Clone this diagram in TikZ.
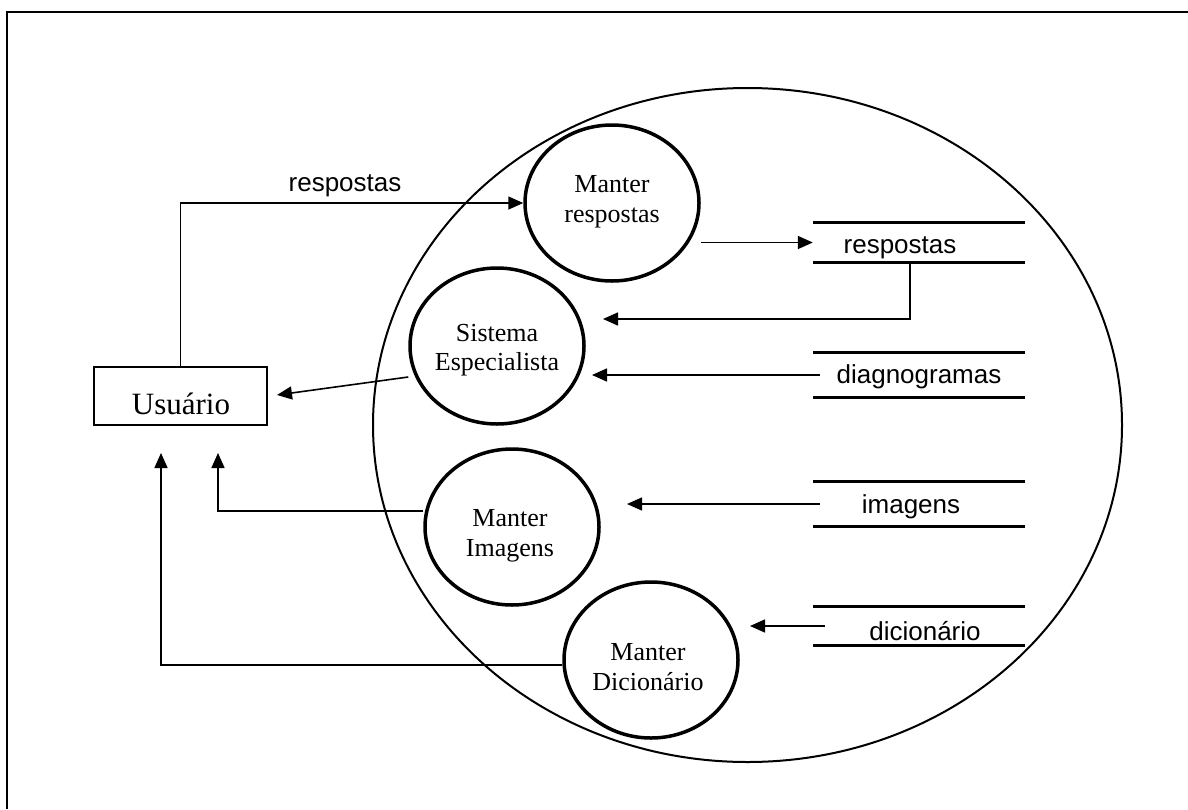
\documentclass[tikz,border=0pt]{standalone}
\usepackage{fontspec}
\setmainfont{Liberation Serif}
\newfontfamily\arialf{Liberation Sans}
\usetikzlibrary{shapes.geometric,arrows.meta}
\begin{document}
\begin{tikzpicture}[x=1pt,y=-1pt,
  proc/.style={draw,fill=white,ellipse,line width=3.5pt,minimum width=174pt,minimum height=156pt,inner sep=0pt},
  proctxt/.style={align=center,font=\fontsize{26}{29.5}\selectfont,inner sep=0pt},
  storebox/.style={minimum width=212pt,inner sep=0pt},
  storeline/.style={line width=3pt},
  storetxt/.style={font=\arialf\fontsize{26}{30}\selectfont,inner sep=0pt,anchor=base},
  arr/.style={line width=1.6pt,-{Triangle[length=15pt,width=13pt]}}]
\useasboundingbox (0,0) rectangle (1188,809);
\draw[line width=2pt] (7,809) -- (7,11.5) -- (1188,11.5);

\node[draw,ellipse,line width=2pt,minimum width=749pt,minimum height=674pt,inner sep=0pt] (sys) at (747.5,425) {};

% processes
\node[proc] (mr) at (612,203) {};
\node[proctxt] (mrt) at (612,202) {Manter\\respostas};
\node[proc] (se) at (497,346) {};
\node[proctxt] (set) at (497,350) {Sistema\\Especialista};
\node[proc] (mi) at (512,527) {};
\node[proctxt] (mit) at (510,536) {Manter\\Imagens};
\node[proc] (md) at (651,660) {};
\node[proctxt] (mdt) at (648,667) {Manter\\Dicionário};

% user
\node[draw,line width=2pt,minimum width=173pt,minimum height=58pt,inner sep=0pt] (usr) at (180.5,396) {};
\node[font=\fontsize{31}{36}\selectfont,anchor=base,inner sep=0pt] (usrt) at (181,414) {Usuário};

% stores
\node[storebox,minimum height=39pt] (srep) at (919,242.5) {};
\draw[storeline] (srep.north west) -- (srep.north east) (srep.south west) -- (srep.south east);
\node[storetxt] (srept) at (900,253) {respostas};
\node[storebox,minimum height=44pt] (diag) at (919,375) {};
\draw[storeline] (diag.north west) -- (diag.north east) (diag.south west) -- (diag.south east);
\node[storetxt] (diagt) at (919,383) {diagnogramas};
\node[storebox,minimum height=44pt] (img) at (919,504) {};
\draw[storeline] (img.north west) -- (img.north east) (img.south west) -- (img.south east);
\node[storetxt] (imgt) at (911,513) {imagens};
\node[storebox,minimum height=38pt] (dic) at (919,626) {};
\draw[storeline] (dic.north west) -- (dic.north east) (dic.south west) -- (dic.south east);
\node[storetxt] (dict) at (925,640) {dicionário};

% connectors
\draw[arr] (usr.north) |- (mr.west);
\node[storetxt] (lbl) at (345,191) {respostas};
\draw[arr] (mr.east |- srep.west) -- (srep.west);
\coordinate (e3) at (603,319);
\draw[arr] ([xshift=-9pt]srep.south) |- (e3);
\coordinate (e4) at (592,375);
\draw[arr] ([xshift=7pt]diag.west) -- (e4);
\coordinate (e5) at (277,395);
\draw[arr] ([yshift=-31pt]se.west) -- (e5);
\coordinate (e6) at (218,453);
\draw[arr] ([yshift=16pt]mi.west) -| (e6);
\coordinate (e7) at (627,504);
\draw[arr] ([xshift=7pt]img.west) -- (e7);
\coordinate (e8) at (750,626);
\draw[arr] ([xshift=12pt]dic.west) -- (e8);
\coordinate (e9) at (161,453);
\draw[arr] ([yshift=-5pt]md.west) -| (e9);
\end{tikzpicture}
\end{document}
